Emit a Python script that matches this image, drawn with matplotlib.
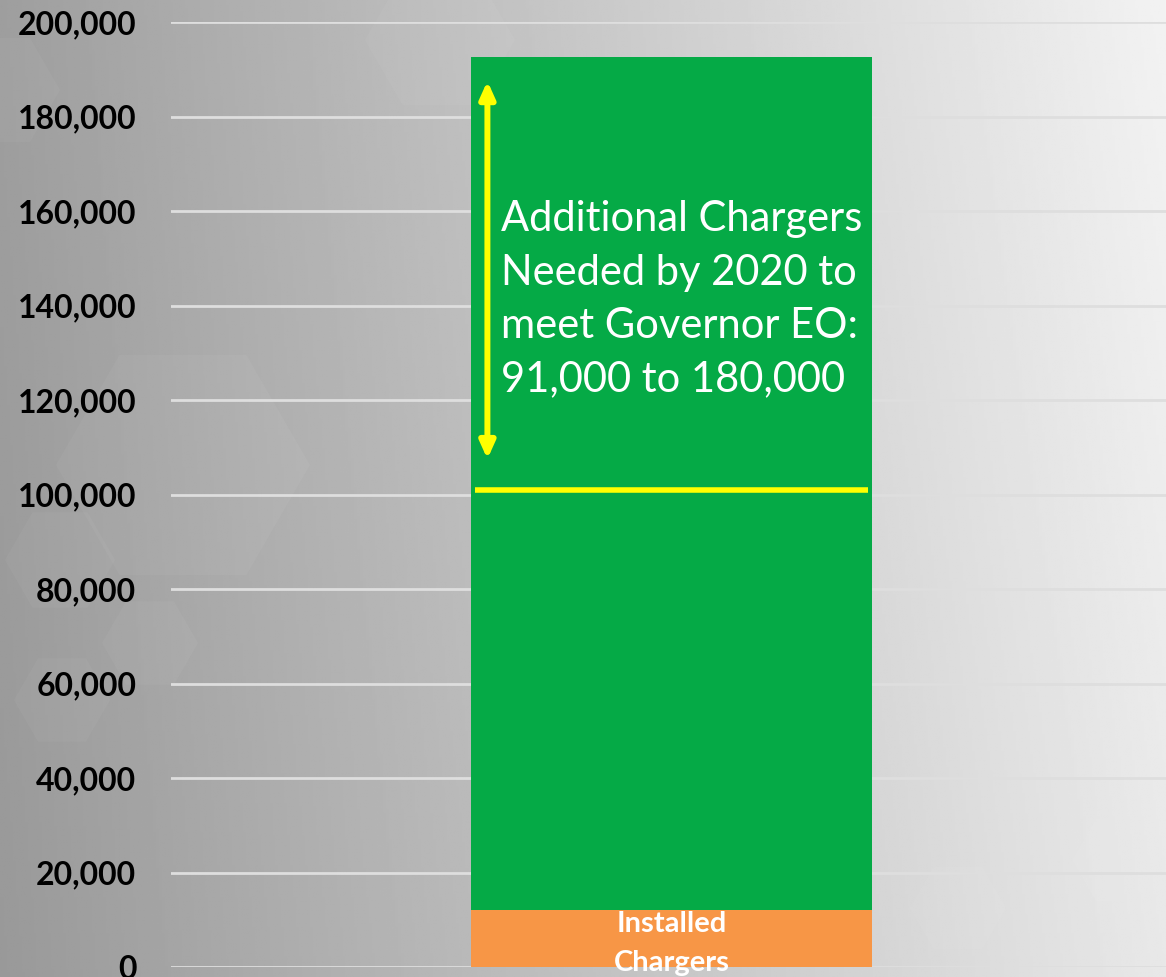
import numpy as np
import matplotlib.pyplot as plt
from matplotlib.patches import RegularPolygon
from matplotlib.ticker import FuncFormatter

# data
installed = [12000]
additional = [180500]
target_low = 101000          # yellow line
arrow_span = [107500, 187500]  # double arrow
yticks = np.arange(0, 200001, 20000)
label_main = "Additional Chargers\nNeeded by 2020 to\nmeet Governor EO:\n91,000 to 180,000"
label_installed = "Installed\nChargers"

W, H = 1166, 977
fig = plt.figure(figsize=(W / 100, H / 100), dpi=100)

# gray gradient background with faint hexagons
bg = fig.add_axes([0, 0, 1, 1], zorder=0)
xx, yy = np.meshgrid(np.linspace(0, 1, 400), np.linspace(0, 1, 300))
shade = 0.62 + 0.29 * xx + 0.04 * (1 - yy) * xx - 0.02 * yy * (1 - xx)
bg.imshow(shade, cmap="gray", vmin=0, vmax=1, extent=[0, W, H, 0], aspect="auto")
hexes = [(183, 465, 127), (150, 643, 48), (60, 560, 55), (62, 700, 48),
         (440, 40, 75), (958, 908, 48), (1120, 860, 48), (0, 90, 60)]
for cx, cy, r in hexes:
    bg.add_patch(RegularPolygon((cx, cy), 6, radius=r, orientation=np.pi / 6,
                                facecolor="white", alpha=0.04, edgecolor="none"))
bg.set_xlim(0, W)
bg.set_ylim(H, 0)
bg.axis("off")

ax = fig.add_axes([171 / W, 1 - 967 / H, 1 - 171 / W, (967 - 22) / H], zorder=1)
ax.patch.set_alpha(0)

ax.bar([0], installed, width=0.403, color="#f79646", zorder=3)
ax.bar([0], additional, bottom=installed, width=0.403, color="#05aa46", zorder=3)

ax.hlines(target_low, -0.197, 0.198, color="#ffff00", lw=4, zorder=4)
ax.annotate("", xy=(-0.185, arrow_span[1]), xytext=(-0.185, arrow_span[0]),
            arrowprops=dict(arrowstyle="<|-|>,head_length=1.0,head_width=0.45",
                            color="#ffff00", lw=4.3, shrinkA=0, shrinkB=0),
            zorder=5)

ax.text(-0.171, 162300, label_main, color="white", fontsize=30, family="Lato",
        va="top", ha="left", linespacing=1.5, zorder=5)
ax.text(0.0, installed[0] / 2 - 1000, label_installed, color="white", fontsize=21,
        family="Lato", fontweight="bold", ha="center", va="center",
        linespacing=1.6, zorder=5, clip_on=False)

ax.set_xlim(-0.503, 0.497)
ax.set_ylim(0, 200000)
ax.set_yticks(yticks)
ax.yaxis.set_major_formatter(FuncFormatter(lambda v, p: f"{int(v):,}"))
ax.grid(axis="y", color="#dedede", lw=2, zorder=1)
ax.set_xticks([])
ax.tick_params(axis="y", length=0, pad=25, labelsize=23)
for lab in ax.get_yticklabels():
    lab.set_fontweight("bold")
    lab.set_family("Lato")
for s in ax.spines.values():
    s.set_visible(False)

fig.savefig("out.png", dpi=100)
